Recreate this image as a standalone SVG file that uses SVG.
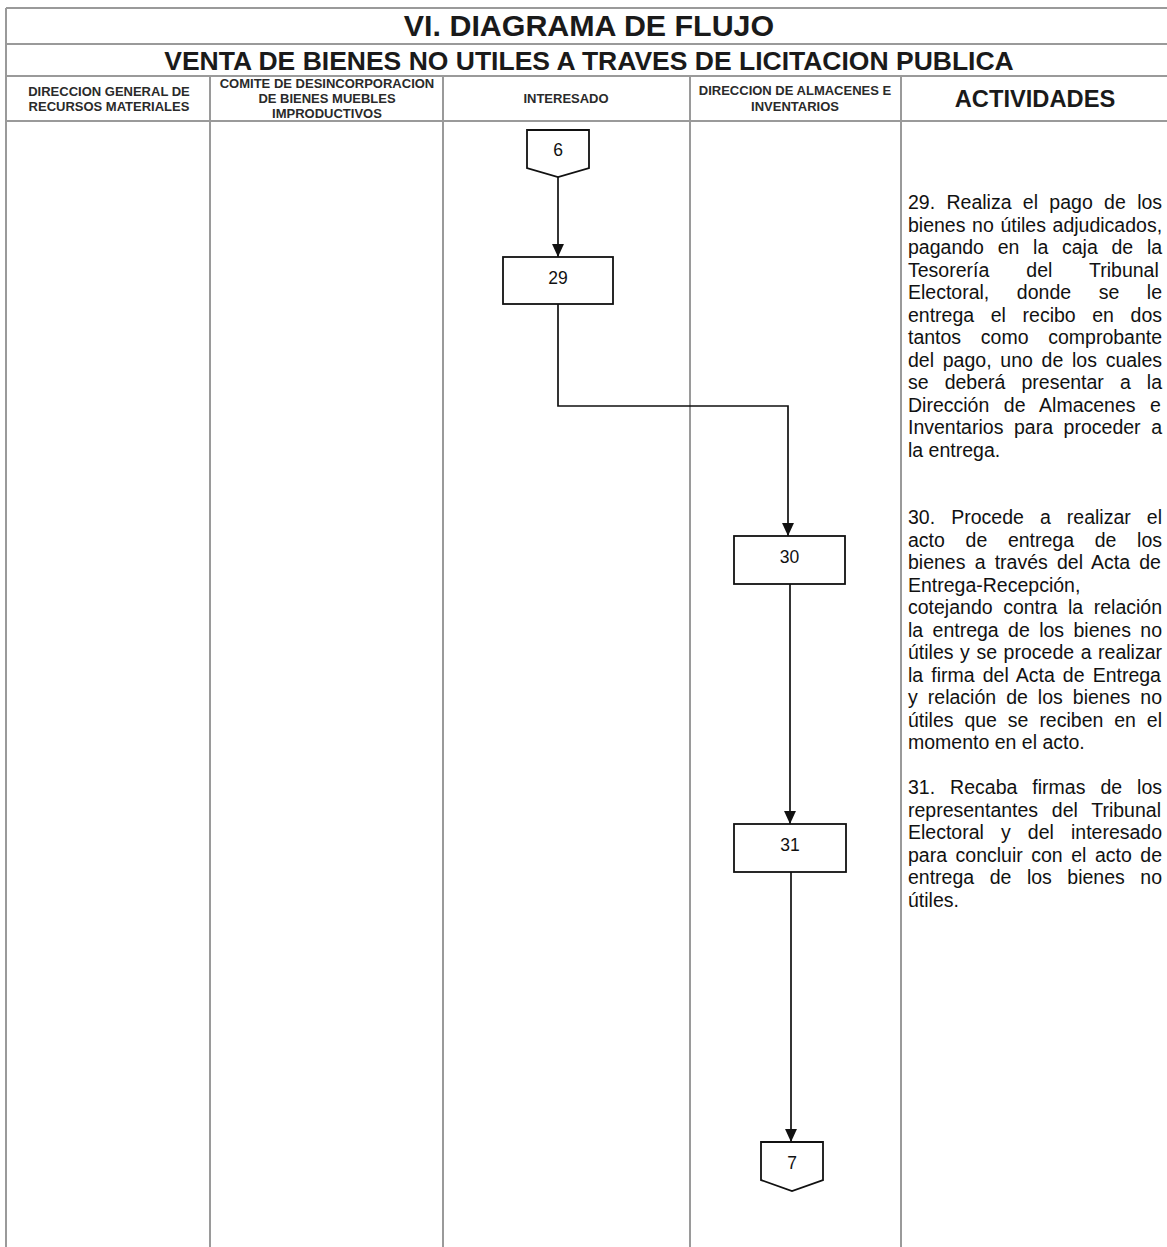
<svg xmlns="http://www.w3.org/2000/svg" width="1167" height="1247" viewBox="0 0 1167 1247">
  <style>
    .grid { stroke: #9a9a9a; stroke-width: 2; fill: none; }
    .hdr { font-family: "Liberation Sans", Arial, sans-serif; font-weight: bold; fill: #1a1a1a; text-anchor: middle; }
    .lane { font-size: 13px; fill: #2a2a2a; }
    .shape { fill: #ffffff; stroke: #111111; stroke-width: 1.8; }
    .lbl { font-family: "Liberation Sans", Arial, sans-serif; font-size: 17.5px; fill: #111111; text-anchor: middle; }
    .flow { fill: none; stroke: #111111; stroke-width: 1.7; }
    .act { font-family: "Liberation Sans", Arial, sans-serif; font-size: 19.5px; fill: #111111; }
  </style>
  <defs>
    <marker id="tri" viewBox="0 0 12 12" refX="12" refY="6" markerWidth="13" markerHeight="13" markerUnits="userSpaceOnUse" orient="auto">
      <path d="M0,0.5 L12,6 L0,11.5 z" fill="#111111"/>
    </marker>
  </defs>

  <rect x="0" y="0" width="1167" height="1247" fill="#ffffff"/>

  <!-- table frame -->
  <g id="frame" class="grid">
    <line x1="6" y1="8" x2="1167" y2="8"/>
    <line x1="6" y1="44" x2="1167" y2="44"/>
    <line x1="6" y1="76" x2="1167" y2="76"/>
    <line x1="6" y1="121" x2="1167" y2="121"/>
    <line x1="6" y1="8" x2="6" y2="1247"/>
    <line x1="210" y1="76" x2="210" y2="1247"/>
    <line x1="443" y1="76" x2="443" y2="1247"/>
    <line x1="690" y1="76" x2="690" y2="1247"/>
    <line x1="901" y1="76" x2="901" y2="1247"/>
  </g>

  <!-- titles -->
  <g id="titles" class="hdr">
    <text x="589" y="36" font-size="30.4px">VI. DIAGRAMA DE FLUJO</text>
    <text x="589" y="70" font-size="26.5px">VENTA DE BIENES NO UTILES A TRAVES DE LICITACION PUBLICA</text>
  </g>

  <!-- lane headers -->
  <g id="lane-headers" class="hdr">
    <text class="lane" x="109" y="96">DIRECCION GENERAL DE</text>
    <text class="lane" x="109" y="111">RECURSOS MATERIALES</text>
    <text class="lane" x="327" y="88">COMITE DE DESINCORPORACION</text>
    <text class="lane" x="327" y="103">DE BIENES MUEBLES</text>
    <text class="lane" x="327" y="118">IMPRODUCTIVOS</text>
    <text class="lane" x="566" y="103">INTERESADO</text>
    <text class="lane" x="795" y="95">DIRECCION DE ALMACENES E</text>
    <text class="lane" x="795" y="111">INVENTARIOS</text>
    <text x="1035" y="107" font-size="23.7px">ACTIVIDADES</text>
  </g>

  <!-- connectors -->
  <g id="connectors">
    <line class="flow" x1="558" y1="177" x2="558" y2="257" marker-end="url(#tri)"/>
    <polyline class="flow" points="558,304 558,406 788,406 788,536" marker-end="url(#tri)"/>
    <line class="flow" x1="790" y1="584" x2="790" y2="824" marker-end="url(#tri)"/>
    <line class="flow" x1="791" y1="872" x2="791" y2="1142" marker-end="url(#tri)"/>
  </g>

  <!-- off-page connector in -->
  <g id="node-6">
    <path class="shape" d="M527,130 L589,130 L589,168 L558,177 L527,168 Z"/>
    <text class="lbl" x="558" y="156">6</text>
  </g>

  <g id="node-29">
    <rect class="shape" x="503" y="257" width="110" height="47"/>
    <text class="lbl" x="558" y="284">29</text>
  </g>

  <g id="node-30">
    <rect class="shape" x="734" y="536" width="111" height="48"/>
    <text class="lbl" x="789.5" y="563">30</text>
  </g>

  <g id="node-31">
    <rect class="shape" x="734" y="824" width="112" height="48"/>
    <text class="lbl" x="790" y="851">31</text>
  </g>

  <!-- off-page connector out -->
  <g id="node-7">
    <path class="shape" d="M761,1142 L823,1142 L823,1180 L792,1191 L761,1180 Z"/>
    <text class="lbl" x="792" y="1169">7</text>
  </g>

  <!-- activity descriptions (justified lines use word-spacing) -->
  <g id="activities" class="act">
    <text x="908" y="209" word-spacing="5.93">29. Realiza el pago de los</text>
    <text x="908" y="231.5" word-spacing="1.21">bienes no útiles adjudicados,</text>
    <text x="908" y="254" word-spacing="8.31">pagando en la caja de la</text>
    <text x="908" y="276.5" word-spacing="31.63">Tesorería del Tribunal</text>
    <text x="908" y="299" word-spacing="22.16">Electoral, donde se le</text>
    <text x="908" y="321.5" word-spacing="11.2">entrega el recibo en dos</text>
    <text x="908" y="344" word-spacing="14.28">tantos como comprobante</text>
    <text x="908" y="366.5" word-spacing="3.32">del pago, uno de los cuales</text>
    <text x="908" y="389" word-spacing="10.66">se deberá presentar a la</text>
    <text x="908" y="411.5" word-spacing="9.17">Dirección de Almacenes e</text>
    <text x="908" y="434" word-spacing="5.18">Inventarios para proceder a</text>
    <text x="908" y="456.5">la entrega.</text>

    <text x="908" y="524" word-spacing="10.66">30. Procede a realizar el</text>
    <text x="908" y="546.5" word-spacing="15.26">acto de entrega de los</text>
    <text x="908" y="569" word-spacing="3.76">bienes a través del Acta de</text>
    <text x="908" y="591.5">Entrega-Recepción,</text>
    <text x="908" y="614" word-spacing="5.18">cotejando contra la relación</text>
    <text x="908" y="636.5" word-spacing="3.97">la entrega de los bienes no</text>
    <text x="908" y="659" word-spacing="1.16">útiles y se procede a realizar</text>
    <text x="908" y="681.5" word-spacing="2.68">la firma del Acta de Entrega</text>
    <text x="908" y="704" word-spacing="4.63">y relación de los bienes no</text>
    <text x="908" y="726.5" word-spacing="5.49">útiles que se reciben en el</text>
    <text x="908" y="749">momento en el acto.</text>

    <text x="908" y="794" word-spacing="9.58">31. Recaba firmas de los</text>
    <text x="908" y="816.5" word-spacing="8.33">representantes del Tribunal</text>
    <text x="908" y="839" word-spacing="11.69">Electoral y del interesado</text>
    <text x="908" y="861.5" word-spacing="3.11">para concluir con el acto de</text>
    <text x="908" y="884" word-spacing="10.11">entrega de los bienes no</text>
    <text x="908" y="906.5">útiles.</text>
  </g>
</svg>
